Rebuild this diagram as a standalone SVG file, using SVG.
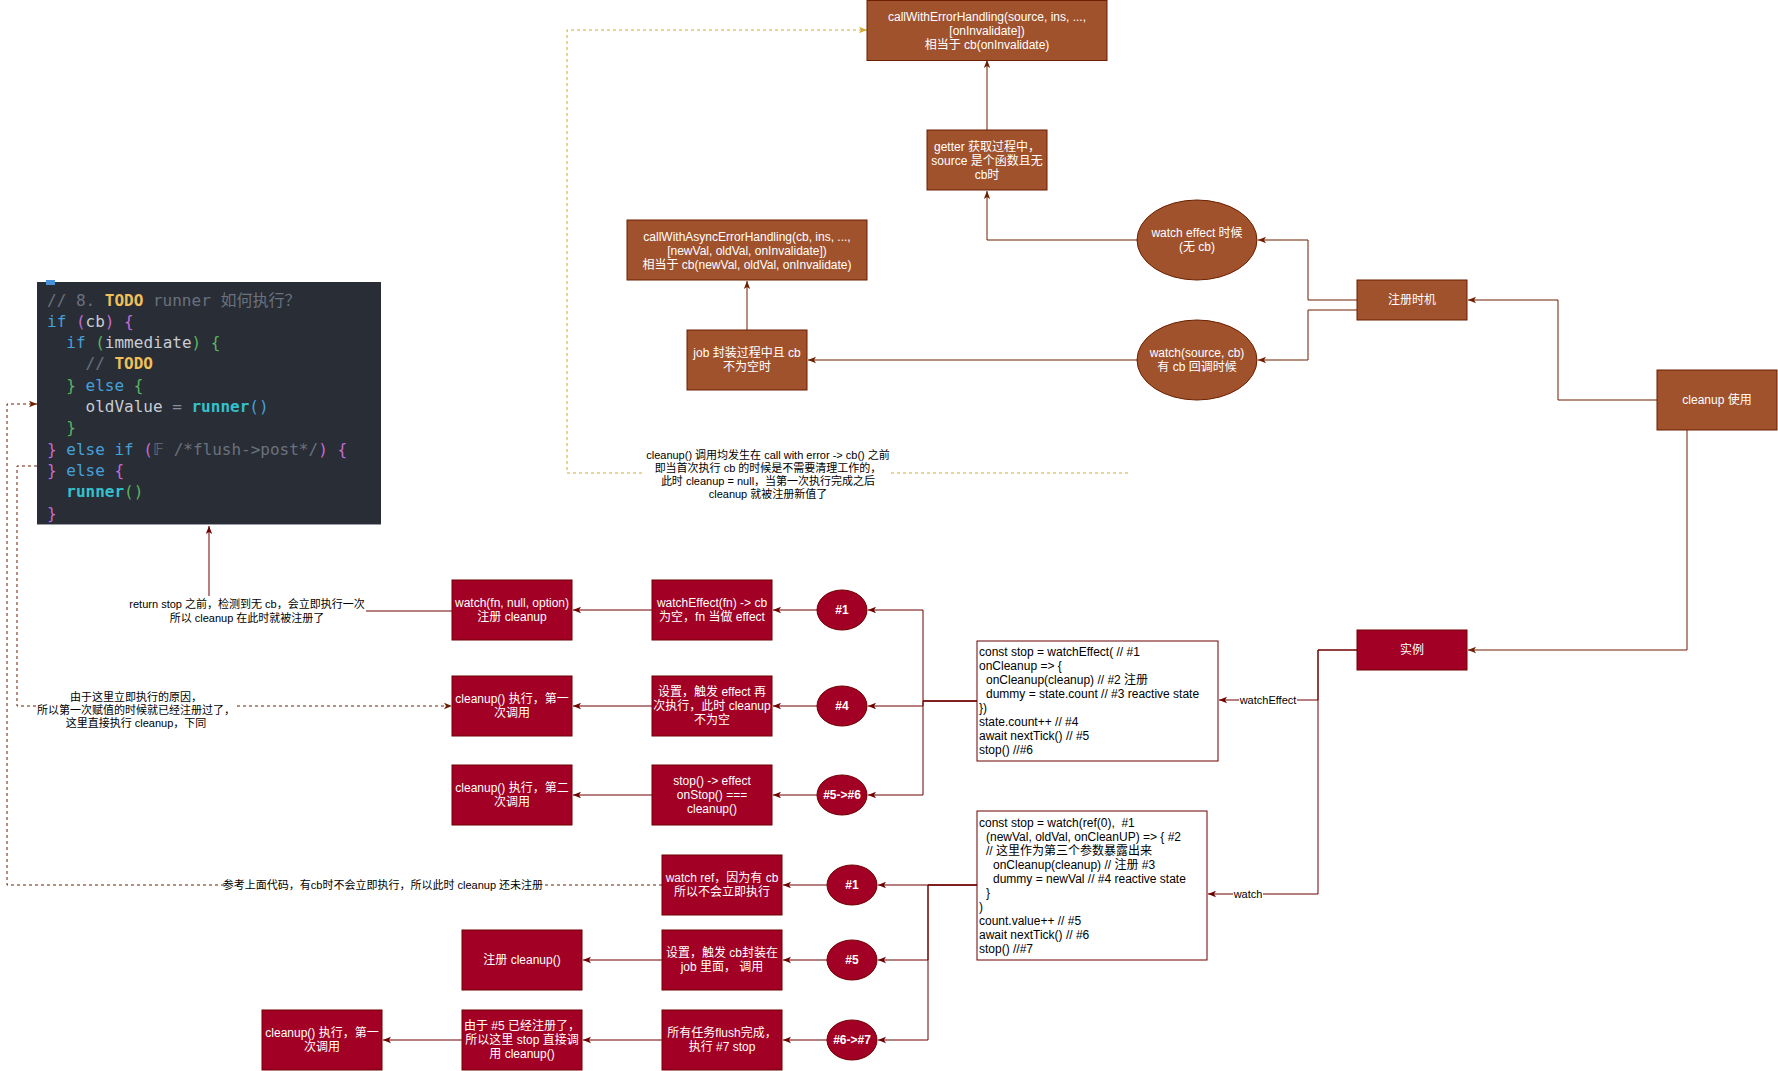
<svg xmlns="http://www.w3.org/2000/svg" width="1778" height="1071" viewBox="0 0 1778 1071">
  <style>
    .t { font-family: "Liberation Sans", "Noto Sans CJK SC", sans-serif; font-size: 12px; }
    .w { fill: #ffffff; }
    .c { text-anchor: middle; }
    .b { font-weight: bold; }
    .lbl { font-family: "Liberation Sans", "Noto Sans CJK SC", sans-serif; font-size: 11px; fill: #000000; text-anchor: middle; }
    .sienna { fill: #a0522d; stroke: #6d1f00; stroke-width: 1; }
    .crimson { fill: #a20025; stroke: #6f0000; stroke-width: 1; }
    .codebox { fill: #ffffff; stroke: #6f0000; stroke-width: 1; }
    .e1 { fill: none; stroke: #6d1f00; stroke-width: 1; marker-end: url(#a1); }
    .e2 { fill: none; stroke: #6f0000; stroke-width: 1; marker-end: url(#a2); }
    .ed { fill: none; stroke: #6d1f00; stroke-width: 1; stroke-dasharray: 3 3; marker-end: url(#a1); }
    .ey { fill: none; stroke: #d4aa32; stroke-width: 1; stroke-dasharray: 3 3; marker-end: url(#ay); }
    .bg { fill: #ffffff; }
    .mono { font-family: "DejaVu Sans Mono", "Liberation Mono", "Noto Sans CJK SC", monospace; font-size: 16px; }
    .cm { fill: #6b717d; }
    .td { fill: #f0c05a; font-weight: bold; }
    .kw { fill: #46a0d8; }
    .p1 { fill: #c66bd0; }
    .p2 { fill: #5cb460; }
    .p3 { fill: #46a0d8; }
    .id { fill: #c8ccd4; }
    .op { fill: #8a8f98; }
    .fn { fill: #35c0cb; font-weight: bold; }
  </style>
  <defs>
    <marker id="a1" viewBox="0 0 10 10" refX="10" refY="5" markerWidth="8" markerHeight="8" markerUnits="userSpaceOnUse" orient="auto">
      <path d="M0,1 L10,5 L0,9 L2.5,5 Z" fill="#6d1f00"/>
    </marker>
    <marker id="a2" viewBox="0 0 10 10" refX="10" refY="5" markerWidth="8" markerHeight="8" markerUnits="userSpaceOnUse" orient="auto">
      <path d="M0,1 L10,5 L0,9 L2.5,5 Z" fill="#6f0000"/>
    </marker>
    <marker id="ay" viewBox="0 0 10 10" refX="10" refY="5" markerWidth="8" markerHeight="8" markerUnits="userSpaceOnUse" orient="auto">
      <path d="M0,1 L10,5 L0,9 L2.5,5 Z" fill="#d4aa32"/>
    </marker>
  </defs>

  <rect width="1778" height="1071" fill="#ffffff"/>

  <!-- connectors -->
  <g id="connectors">
    <!-- upper part: registration timing -->
    <path class="e1" d="M987,130 V60"/>
    <path class="e1" d="M1137,240 H987 V191"/>
    <path class="e1" d="M747,330 V281"/>
    <path class="e1" d="M1137,360 H808"/>
    <path class="e1" d="M1357,300 H1308 V240 H1258"/>
    <path class="e1" d="M1357,310 H1308 V360 H1258"/>
    <path class="e1" d="M1657,400 H1558 V300 H1468"/>
    <path class="e1" d="M1687,430 V650 H1468"/>

    <!-- 实例 to the two code samples -->
    <path class="e2" d="M1357,650 H1318 V700 H1219"/>
    <path class="e2" d="M1357,650 H1318 V894 H1208"/>

    <!-- watchEffect sample -->
    <path class="e2" d="M977,701 H923 V610 H868"/>
    <path class="e2" d="M977,701 H923 V706 H868"/>
    <path class="e2" d="M977,701 H923 V795 H868"/>
    <path class="e2" d="M817,610 H773"/>
    <path class="e2" d="M652,610 H573"/>
    <path class="e2" d="M817,706 H773"/>
    <path class="e2" d="M652,706 H573"/>
    <path class="e2" d="M817,795 H773"/>
    <path class="e2" d="M652,795 H573"/>
    <path class="e2" d="M452,611 H209 V526"/>

    <!-- watch sample -->
    <path class="e2" d="M977,885 H928 V885 H878"/>
    <path class="e2" d="M977,885 H928 V960 H878"/>
    <path class="e2" d="M977,885 H928 V1040 H878"/>
    <path class="e2" d="M827,885 H783"/>
    <path class="e2" d="M827,960 H783"/>
    <path class="e2" d="M662,960 H583"/>
    <path class="e2" d="M827,1040 H783"/>
    <path class="e2" d="M662,1040 H583"/>
    <path class="e2" d="M462,1040 H383"/>

    <!-- dashed references to the source snippet -->
    <path class="ed" d="M662,885 H7 V404 H37"/>
    <path class="ed" d="M37,466 H17 V706 H452"/>
    <path class="ey" d="M1128,473 H567 V30 H867"/>

    <!-- edge labels -->
    <rect class="bg" x="1239" y="693" width="58" height="14"/>
    <text class="lbl" x="1268" y="704">watchEffect</text>
    <rect class="bg" x="1233" y="887" width="30" height="14"/>
    <text class="lbl" x="1248" y="898">watch</text>

    <rect class="bg" x="128" y="596" width="238" height="30"/>
    <text class="lbl"><tspan x="247" y="608">return stop 之前，检测到无 cb，会立即执行一次</tspan><tspan x="247" y="622">所以 cleanup 在此时就被注册了</tspan></text>

    <rect class="bg" x="36" y="689" width="200" height="42"/>
    <text class="lbl"><tspan x="136" y="701">由于这里立即执行的原因，</tspan><tspan x="136" y="714">所以第一次赋值的时候就已经注册过了，</tspan><tspan x="136" y="727">这里直接执行 cleanup，下同</tspan></text>

    <rect class="bg" x="224" y="878" width="318" height="14"/>
    <text class="lbl" x="383" y="889">参考上面代码，有cb时不会立即执行，所以此时 cleanup 还未注册</text>

    <rect class="bg" x="645" y="447" width="246" height="54"/>
    <text class="lbl"><tspan x="768" y="459">cleanup() 调用均发生在 call with error -&gt; cb() 之前</tspan><tspan x="768" y="472">即当首次执行 cb 的时候是不需要清理工作的，</tspan><tspan x="768" y="485">此时 cleanup = null，当第一次执行完成之后</tspan><tspan x="768" y="498">cleanup 就被注册新值了</tspan></text>
  </g>

  <!-- source snippet -->
  <g id="source-snippet">
    <rect x="37" y="282" width="344" height="243" fill="#282d36"/>
    <line x1="37" y1="524.5" x2="381" y2="524.5" stroke="#9a9ea6" stroke-width="1"/>
    <rect x="46" y="280" width="9" height="5" fill="#4a90d9"/>
    <g class="mono" xml:space="preserve">
      <text x="47" y="305.5"><tspan class="cm">// 8. </tspan><tspan class="td">TODO</tspan><tspan class="cm"> runner 如何执行？</tspan></text>
      <text x="47" y="326.8"><tspan class="kw">if</tspan> <tspan class="p1">(</tspan><tspan class="id">cb</tspan><tspan class="p1">)</tspan> <tspan class="p1">{</tspan></text>
      <text x="66.3" y="348.1"><tspan class="kw">if</tspan> <tspan class="p2">(</tspan><tspan class="id">immediate</tspan><tspan class="p2">)</tspan> <tspan class="p2">{</tspan></text>
      <text x="85.5" y="369.4"><tspan class="cm">//</tspan> <tspan class="td">TODO</tspan></text>
      <text x="66.3" y="390.7"><tspan class="p2">}</tspan> <tspan class="kw">else</tspan> <tspan class="p2">{</tspan></text>
      <text x="85.5" y="412"><tspan class="id">oldValue</tspan> <tspan class="op">=</tspan> <tspan class="fn">runner</tspan><tspan class="p3">()</tspan></text>
      <text x="66.3" y="433.3"><tspan class="p2">}</tspan></text>
      <text x="47" y="454.6"><tspan class="p1">}</tspan> <tspan class="kw">else if</tspan> <tspan class="p1">(</tspan><tspan class="cm">𝔽 /*flush-&gt;post*/</tspan><tspan class="p1">)</tspan> <tspan class="p1">{</tspan></text>
      <text x="47" y="475.9"><tspan class="p1">}</tspan> <tspan class="kw">else</tspan> <tspan class="p1">{</tspan></text>
      <text x="66.3" y="497.2"><tspan class="fn">runner</tspan><tspan class="p2">()</tspan></text>
      <text x="47" y="518.5"><tspan class="p1">}</tspan></text>
    </g>
  </g>

  <!-- upper nodes -->
  <g id="call-with-error-handling">
    <rect class="sienna" x="867" y="0.5" width="240" height="60"/>
    <text class="t w c"><tspan x="987" y="21">callWithErrorHandling(source, ins, ...,</tspan><tspan x="987" y="35">[onInvalidate])</tspan><tspan x="987" y="49">相当于 cb(onInvalidate)</tspan></text>
  </g>
  <g id="getter-stage">
    <rect class="sienna" x="927" y="130" width="120" height="60"/>
    <text class="t w c"><tspan x="987" y="151">getter 获取过程中，</tspan><tspan x="987" y="165">source 是个函数且无</tspan><tspan x="987" y="179">cb时</tspan></text>
  </g>
  <g id="call-with-async-error-handling">
    <rect class="sienna" x="627" y="220" width="240" height="60"/>
    <text class="t w c"><tspan x="747" y="241">callWithAsyncErrorHandling(cb, ins, ...,</tspan><tspan x="747" y="255">[newVal, oldVal, onInvalidate])</tspan><tspan x="747" y="269">相当于 cb(newVal, oldVal, onInvalidate)</tspan></text>
  </g>
  <g id="job-stage">
    <rect class="sienna" x="687" y="330" width="120" height="60"/>
    <text class="t w c"><tspan x="747" y="357">job 封装过程中且 cb</tspan><tspan x="747" y="371">不为空时</tspan></text>
  </g>
  <g id="watch-effect-case">
    <ellipse class="sienna" cx="1197" cy="240" rx="60" ry="40"/>
    <text class="t w c"><tspan x="1197" y="237">watch effect 时候</tspan><tspan x="1197" y="251">(无 cb)</tspan></text>
  </g>
  <g id="watch-source-case">
    <ellipse class="sienna" cx="1197" cy="360" rx="60" ry="40"/>
    <text class="t w c"><tspan x="1197" y="357">watch(source, cb)</tspan><tspan x="1197" y="371">有 cb 回调时候</tspan></text>
  </g>
  <g id="register-timing">
    <rect class="sienna" x="1357" y="280" width="110" height="40"/>
    <text class="t w c" x="1412" y="304">注册时机</text>
  </g>
  <g id="cleanup-usage">
    <rect class="sienna" x="1657" y="370" width="120" height="60"/>
    <text class="t w c" x="1717" y="404">cleanup 使用</text>
  </g>
  <g id="examples">
    <rect class="crimson" x="1357" y="630" width="110" height="40"/>
    <text class="t w c" x="1412" y="654">实例</text>
  </g>

  <!-- code samples -->
  <g id="watch-effect-sample">
    <rect class="codebox" x="977" y="641" width="241" height="120"/>
    <text class="t"><tspan x="979" y="656">const stop = watchEffect( // #1</tspan><tspan x="979" y="670">onCleanup =&gt; {</tspan><tspan x="986" y="684">onCleanup(cleanup) // #2 注册</tspan><tspan x="986" y="698">dummy = state.count // #3 reactive state</tspan><tspan x="979" y="712">})</tspan><tspan x="979" y="726">state.count++ // #4</tspan><tspan x="979" y="740">await nextTick() // #5</tspan><tspan x="979" y="754">stop() //#6</tspan></text>
  </g>
  <g id="watch-sample">
    <rect class="codebox" x="977" y="811" width="230" height="149"/>
    <text class="t"><tspan x="979" y="827">const stop = watch(ref(0), &#160;#1</tspan><tspan x="986" y="841">(newVal, oldVal, onCleanUP) =&gt; { #2</tspan><tspan x="986" y="855">// 这里作为第三个参数暴露出来</tspan><tspan x="993" y="869">onCleanup(cleanup) // 注册 #3</tspan><tspan x="993" y="883">dummy = newVal // #4 reactive state</tspan><tspan x="986" y="897">}</tspan><tspan x="979" y="911">)</tspan><tspan x="979" y="925">count.value++ // #5</tspan><tspan x="979" y="939">await nextTick() // #6</tspan><tspan x="979" y="953">stop() //#7</tspan></text>
  </g>

  <!-- watchEffect steps -->
  <g id="we-step1">
    <ellipse class="crimson" cx="842" cy="610" rx="25" ry="20"/>
    <text class="t w c b" x="842" y="614">#1</text>
  </g>
  <g id="we-create">
    <rect class="crimson" x="652" y="580" width="120" height="60"/>
    <text class="t w c"><tspan x="712" y="607">watchEffect(fn) -&gt; cb</tspan><tspan x="712" y="621">为空，fn 当做 effect</tspan></text>
  </g>
  <g id="we-register">
    <rect class="crimson" x="452" y="580" width="120" height="60"/>
    <text class="t w c"><tspan x="512" y="607">watch(fn, null, option)</tspan><tspan x="512" y="621">注册 cleanup</tspan></text>
  </g>
  <g id="we-step4">
    <ellipse class="crimson" cx="842" cy="706" rx="25" ry="20"/>
    <text class="t w c b" x="842" y="710">#4</text>
  </g>
  <g id="we-rerun">
    <rect class="crimson" x="652" y="676" width="120" height="60"/>
    <text class="t w c"><tspan x="712" y="696">设置，触发 effect 再</tspan><tspan x="712" y="710">次执行，此时 cleanup</tspan><tspan x="712" y="724">不为空</tspan></text>
  </g>
  <g id="we-cleanup-first">
    <rect class="crimson" x="452" y="676" width="120" height="60"/>
    <text class="t w c"><tspan x="512" y="703">cleanup() 执行，第一</tspan><tspan x="512" y="717">次调用</tspan></text>
  </g>
  <g id="we-step5-6">
    <ellipse class="crimson" cx="842" cy="795" rx="25" ry="20"/>
    <text class="t w c b" x="842" y="799">#5-&gt;#6</text>
  </g>
  <g id="we-stop">
    <rect class="crimson" x="652" y="765" width="120" height="60"/>
    <text class="t w c"><tspan x="712" y="785">stop() -&gt; effect</tspan><tspan x="712" y="799">onStop() ===</tspan><tspan x="712" y="813">cleanup()</tspan></text>
  </g>
  <g id="we-cleanup-second">
    <rect class="crimson" x="452" y="765" width="120" height="60"/>
    <text class="t w c"><tspan x="512" y="792">cleanup() 执行，第二</tspan><tspan x="512" y="806">次调用</tspan></text>
  </g>

  <!-- watch steps -->
  <g id="w-step1">
    <ellipse class="crimson" cx="852" cy="885" rx="25" ry="20"/>
    <text class="t w c b" x="852" y="889">#1</text>
  </g>
  <g id="w-create">
    <rect class="crimson" x="662" y="855" width="120" height="60"/>
    <text class="t w c"><tspan x="722" y="882">watch ref，因为有 cb</tspan><tspan x="722" y="896">所以不会立即执行</tspan></text>
  </g>
  <g id="w-step5">
    <ellipse class="crimson" cx="852" cy="960" rx="25" ry="20"/>
    <text class="t w c b" x="852" y="964">#5</text>
  </g>
  <g id="w-trigger">
    <rect class="crimson" x="662" y="930" width="120" height="60"/>
    <text class="t w c"><tspan x="722" y="957">设置，触发 cb封装在</tspan><tspan x="722" y="971">job 里面， 调用</tspan></text>
  </g>
  <g id="w-register">
    <rect class="crimson" x="462" y="930" width="120" height="60"/>
    <text class="t w c" x="522" y="964">注册 cleanup()</text>
  </g>
  <g id="w-step6-7">
    <ellipse class="crimson" cx="852" cy="1040" rx="25" ry="20"/>
    <text class="t w c b" x="852" y="1044">#6-&gt;#7</text>
  </g>
  <g id="w-flushed">
    <rect class="crimson" x="662" y="1010" width="120" height="60"/>
    <text class="t w c"><tspan x="722" y="1037">所有任务flush完成，</tspan><tspan x="722" y="1051">执行 #7 stop</tspan></text>
  </g>
  <g id="w-stop">
    <rect class="crimson" x="462" y="1010" width="120" height="60"/>
    <text class="t w c"><tspan x="522" y="1030">由于 #5 已经注册了，</tspan><tspan x="522" y="1044">所以这里 stop 直接调</tspan><tspan x="522" y="1058">用 cleanup()</tspan></text>
  </g>
  <g id="w-cleanup-first">
    <rect class="crimson" x="262" y="1010" width="120" height="60"/>
    <text class="t w c"><tspan x="322" y="1037">cleanup() 执行，第一</tspan><tspan x="322" y="1051">次调用</tspan></text>
  </g>
</svg>
